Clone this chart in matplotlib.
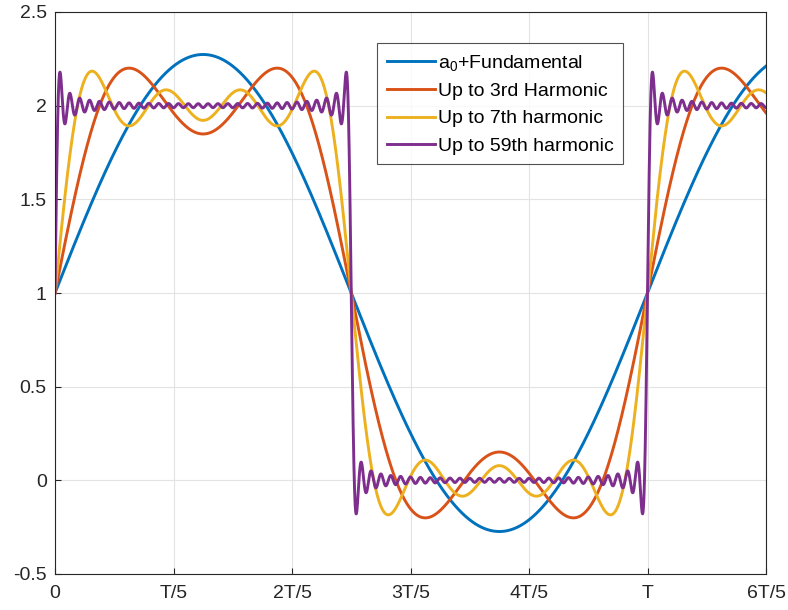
import numpy as np
import matplotlib
matplotlib.use("Agg")
from matplotlib import pyplot as plt

# square wave 0..2 with period T: a0 = 1, odd sine harmonics of amplitude 4/(n*pi)
a0 = 1.0
peak = 4 / np.pi
highest_harmonic = [1, 3, 7, 59]
labels = ["a$_0$+Fundamental", "Up to 3rd Harmonic", "Up to 7th harmonic", "Up to 59th harmonic"]
colors = ["#0072BD", "#D95319", "#EDB120", "#7E2F8E"]
tick_labels = ["0", "T/5", "2T/5", "3T/5", "4T/5", "T", "6T/5"]

plt.rcParams["font.family"] = ["Liberation Sans", "DejaVu Sans"]
plt.rcParams["mathtext.fontset"] = "custom"
plt.rcParams["mathtext.rm"] = "Liberation Sans"
plt.rcParams["mathtext.it"] = "Liberation Sans"

t = np.linspace(0, 1.2, 6000)  # time in units of T


def partial_sum(n_max):
    y = np.full_like(t, a0)
    for n in range(1, n_max + 1, 2):
        y += peak / n * np.sin(2 * np.pi * n * t)
    return y


fig = plt.figure(figsize=(7.88, 6.10), dpi=100)
ax = fig.add_axes([55 / 788, 1 - 574 / 610, (766 - 55) / 788, (574 - 12) / 610])

for n_max, lab, col in zip(highest_harmonic, labels, colors):
    ax.plot(t, partial_sum(n_max), color=col, lw=2.1, label=lab)

ax.set_xlim(0, 1.2)
ax.set_ylim(-0.5, 2.5)
ax.set_xticks(np.arange(7) * 0.2)
ax.set_xticklabels(tick_labels)
ax.set_yticks(np.arange(-0.5, 2.51, 0.5))
ax.set_yticklabels(["-0.5", "0", "0.5", "1", "1.5", "2", "2.5"])
ax.grid(True, color="#e3e3e3", lw=0.8)
ax.set_axisbelow(True)
ax.tick_params(direction="in", length=4, width=0.8, colors="#262626", labelsize=14)
ax.tick_params(axis="x", pad=8)
ax.tick_params(axis="y", pad=6)
for s in ax.spines.values():
    s.set_color("#262626")
    s.set_linewidth(0.8)

leg = ax.legend(loc="upper left", bbox_to_anchor=(322 / 711, 1 - 31 / 562), fontsize=14,
                frameon=True, fancybox=False, edgecolor="#262626", handlelength=2.5,
                borderpad=0.5, labelspacing=0.5, handletextpad=0.12, borderaxespad=0)
leg.get_frame().set_linewidth(0.8)

fig.savefig("out.png", dpi=100)
